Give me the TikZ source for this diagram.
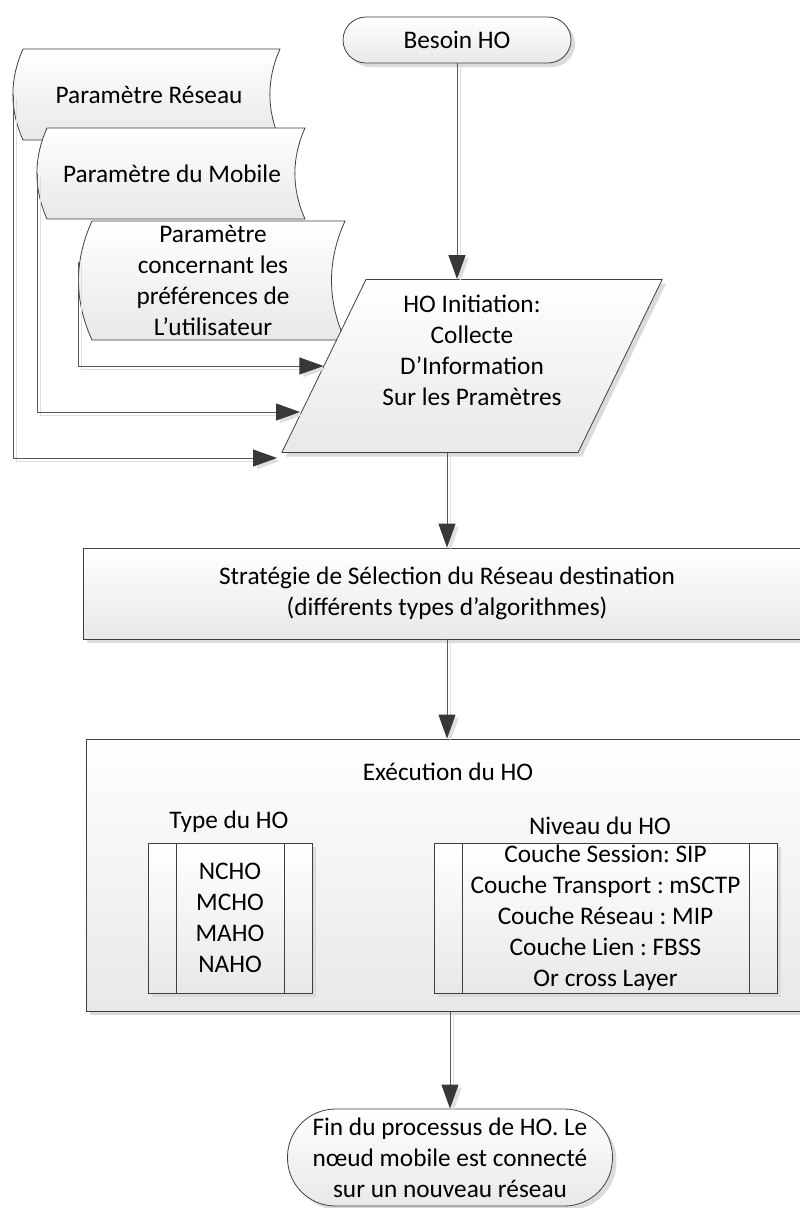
\documentclass[tikz,border=0pt]{standalone}
\usepackage{fontspec}
\setmainfont{Carlito}
\usetikzlibrary{arrows.meta,shapes.geometric,shadows}
\frenchspacing

% stored data outline: x1 y1 x2 y2 bulge
\newcommand{\storedpath}[5]{%
  \shade[stored] (#1,#2) .. controls +(-#5,{(#4-#2)/3}) and +(-#5,{(#2-#4)/3}) .. (#1,#4)
    -- (#3,#4) .. controls +(-#5,{(#2-#4)/3}) and +(-#5,{(#4-#2)/3}) .. (#3,#2) -- cycle;}

\begin{document}
\begin{tikzpicture}[x=1pt, y=-1pt,
    font=\fontsize{25.3pt}{31pt}\selectfont,
    box/.style={draw=black!75, line width=0.8pt, top color=white, bottom color=black!9, align=center, inner sep=0pt},
    shad/.style={drop shadow={shadow xshift=4pt, shadow yshift=-4pt, fill=black!14, opacity=1}},
    term/.style={box, shad},
    para/.style={box, shad, inner sep=4pt, trapezium, trapezium left angle=63.6, trapezium right angle=116.4,
        trapezium stretches=true, minimum width=381pt, minimum height=173pt},
    procbox/.style={box, shad, path picture={
        \draw[black!75, line width=0.8pt]
          ([xshift=28pt]path picture bounding box.north west) -- ([xshift=28pt]path picture bounding box.south west)
          ([xshift=-28pt]path picture bounding box.north east) -- ([xshift=-28pt]path picture bounding box.south east);}},
    stored/.style={draw=black!75, line width=0.8pt, top color=white, bottom color=black!9},
    link/.style={draw=black!65, line width=1pt, -{Triangle[length=24pt,width=17pt,color=black!78]},
        preaction={draw=black!13, -{Triangle[length=24pt,width=17pt]}, transform canvas={shift={(3.5pt,-3pt)}}}}]

  \useasboundingbox (0,0) rectangle (800,1208);

  \node[term, minimum width=228pt, minimum height=46pt, rounded corners=23pt] (start) at (457,40) {Besoin HO};

  % parameter sources
  \storedpath{23}{49}{280}{140}{13.5}
  \node (doc1) at (149,95) {Paramètre Réseau};
  \coordinate (doc1w) at (13,95);
  \storedpath{47}{128}{305}{219}{13.5}
  \node (doc2) at (172,174) {Paramètre du Mobile};
  \coordinate (doc2w) at (37,174);
  \storedpath{92}{221}{345}{340}{18}
  \node[align=center] (doc3) at (213,280) {Paramètre\\concernant les\\préférences de\\L’utilisateur};
  \coordinate (doc3w) at (78,262);

  \node[para] (init) at (472,366) {HO Initiation:\\Collecte\\D’Information\\Sur les Pramètres\\ \mbox{}};
  \coordinate (in2) at (300,412);
  \coordinate (in1) at (277,458);

  \node[box, shad, minimum width=728pt, minimum height=91pt] (strat) at (447,593.5)
    {Stratégie de Sélection du Réseau destination\\(différents types d’algorithmes)};

  \node[box, shad, minimum width=724pt, minimum height=272pt] (exec) at (448,875) {};
  \node (exectitle) at (448,772) {Exécution du HO};
  \node (typelbl) at (229,822) {Type du HO};
  \node[procbox, minimum width=164pt, minimum height=150pt] (types) at (230,918) {NCHO\\MCHO\\MAHO\\NAHO};
  \node (levellbl) at (600,826) {Niveau du HO};
  \node[procbox, minimum width=343pt, minimum height=150pt] (levels) at (605.5,918)
    {Couche Session: SIP\\Couche Transport : mSCTP\\Couche Réseau : MIP\\Couche Lien : FBSS\\Or cross Layer};

  \node[term, minimum width=325pt, minimum height=97pt, rounded corners=48pt] (stop) at (450,1157.5)
    {Fin du processus de HO. Le\\nœud mobile est connecté\\sur un nouveau réseau};

  \draw[link] (start) -- (start |- init.north);
  \draw[link] (doc3w) |- (init.west);
  \draw[link] (doc2w) |- (in2);
  \draw[link] (doc1w) |- (in1);
  \draw[link] (strat.north |- init.south) -- (strat.north);
  \draw[link] (strat.south) -- (strat.south |- exec.north);
  \draw[link] (exec.south -| stop.north) -- (stop.north);
\end{tikzpicture}
\end{document}
